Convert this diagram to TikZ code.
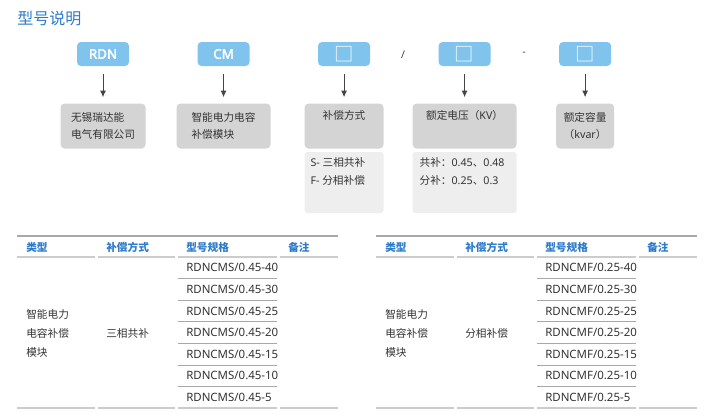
\documentclass[tikz,border=0pt]{standalone}
\usepackage{fontspec}
\setmainfont{Noto Sans CJK SC}
\newfontfamily\latin{Noto Sans}
\newfontfamily\latinbold{Noto Sans}[FakeBold=2.5]
\usepackage{tikz}
\usetikzlibrary{positioning,arrows.meta}
\definecolor{titleblue}{HTML}{2E7BCB}
\definecolor{codeblue}{HTML}{80C3EC}
\definecolor{descgray}{HTML}{D4D4D4}
\definecolor{notegray}{HTML}{EEEEEE}
\definecolor{txtgray}{HTML}{333333}
\definecolor{arrowgray}{HTML}{444444}
\definecolor{ruletop}{HTML}{A8A8A8}
\definecolor{rulelight}{HTML}{CCCCCC}

\begin{document}
\begin{tikzpicture} [x=0.75pt, y=-0.75pt, node distance=51pt, >={Latex[length=5pt,width=4.5pt]},
    every node/.style={inner sep=0pt, text=txtgray, font=\fontsize{8}{12.75}\selectfont},
    code/.style={rectangle, fill=codeblue, rounded corners=3pt, minimum width=39pt,
    minimum height=18pt, text=white, font=\fontsize{10}{10}\selectfont\latinbold},
    blank/.style={code, font=\fontsize{14.5}{14.5}\selectfont},
    desc/.style={rectangle, fill=descgray, rounded corners=3pt, minimum height=33.75pt, align=left},
    note/.style={rectangle, fill=notegray, rounded corners=2pt, minimum height=45.75pt},
    notetext/.style={anchor=north west, align=left, font=\fontsize{8}{13.5}\selectfont},
    con/.style={->, draw=arrowgray, line width=0.75pt, shorten <=6pt, shorten >=4.5pt},
    head/.style={anchor=west, text=titleblue, font=\fontsize{8}{10}\selectfont\bfseries},
    cell/.style={anchor=west, align=left, font=\fontsize{8}{14.25}\selectfont},
    code cell/.style={cell, font=\fontsize{8.6}{10}\selectfont\latin},
    topline/.style={draw=ruletop, line width=0.8pt},
    midline/.style={draw=rulelight, line width=1.1pt},
    rowline/.style={draw=ruletop, line width=0.6pt}
    ]
    \useasboundingbox (0,0) rectangle (704,418);
    \node (title) [anchor=west, text=titleblue, font=\fontsize{12}{14}\selectfont] at (17,18) {型号说明};

    % code boxes
    \node (t1) [code] at (103,54) {RDN};
    \node (t2) [code, right=of t1] {CM};
    \node (t3) [blank, right=of t2] {□};
    \node (t4) [blank, right=of t3] {□};
    \node (t5) [blank, right=of t4] {□};
    \node (slash) [text=arrowgray, font=\fontsize{8}{10}\selectfont\latin] at (403,55) {/};
    \node (dash) [text=arrowgray, font=\fontsize{8}{10}\selectfont\latin] at (524,54) {-};

    % meaning of each part
    \node (d1) [desc, below=27.75pt of t1, minimum width=63.75pt] {无锡瑞达能\\电气有限公司};
    \node (d2) [desc, below=27.75pt of t2, minimum width=70.5pt] {智能电力电容\\补偿模块};
    \node (d3) [desc, below=27.75pt of t3, minimum width=59.25pt, align=center] {补偿方式\\\strut};
    \node (d4) [desc, below=27.75pt of t4, minimum width=78pt, align=center] {额定电压（{\latin KV}）\\\strut};
    \node (d5) [desc, below=27.75pt of t5, minimum width=43.5pt, align=center] {额定容量\\（{\latin kvar}）};
    \node (s3) [note, below=2.25pt of d3, minimum width=59.25pt] {};
    \node (s4) [note, below=2.25pt of d4, minimum width=78pt] {};
    \node (s3t) [notetext] at ([shift={(6,5)}]s3.north west) {{\latin S- }三相共补\\{\latin F- }分相补偿};
    \node (s4t) [notetext] at ([shift={(7,5)}]s4.north west) {共补：{\latin 0.45}、{\latin 0.48}\\分补：{\latin 0.25}、{\latin 0.3}};

    \draw [con] (t1) -- (d1);
    \draw [con] (t2) -- (d2);
    \draw [con] (t3) -- (d3);
    \draw [con] (t4) -- (d4);
    \draw [con] (t5) -- (d5);

    % left table
    \draw [topline] (17,236) -- (338,236);
    \draw [midline] (17,257) -- (95,257) (98,257) -- (175,257) (178,257) -- (277,257) (280,257) -- (338,257);
    \draw [midline] (17,408.2) -- (95,408.2) (98,408.2) -- (175,408.2) (178,408.2) -- (277,408.2) (280,408.2) -- (338,408.2);
    \draw [rowline] (178,278.6) -- (277,278.6) (178,300.2) -- (277,300.2) (178,321.8) -- (277,321.8)
                    (178,343.4) -- (277,343.4) (178,365) -- (277,365) (178,386.6) -- (277,386.6);
    \node (lh1) [head] at (26,247) {类型};
    \node (lh2) [head] at (106,247) {补偿方式};
    \node (lh3) [head] at (186,247) {型号规格};
    \node (lh4) [head] at (288,247) {备注};
    \node (lt) [cell] at (26,333) {智能电力\\电容补偿\\模块};
    \node (lm) [cell] at (106,333) {三相共补};
    \node (l1) [code cell] at (186,267.8) {RDNCMS/0.45-40};
    \node (l2) [code cell] at (186,289.4) {RDNCMS/0.45-30};
    \node (l3) [code cell] at (186,311) {RDNCMS/0.45-25};
    \node (l4) [code cell] at (186,332.6) {RDNCMS/0.45-20};
    \node (l5) [code cell] at (186,354.2) {RDNCMS/0.45-15};
    \node (l6) [code cell] at (186,375.8) {RDNCMS/0.45-10};
    \node (l7) [code cell] at (186,397.4) {RDNCMS/0.45-5};

    % right table
    \draw [topline] (376,236) -- (697,236);
    \draw [midline] (376,257) -- (454,257) (457,257) -- (534,257) (537,257) -- (636,257) (639,257) -- (697,257);
    \draw [midline] (376,408.2) -- (454,408.2) (457,408.2) -- (534,408.2) (537,408.2) -- (636,408.2) (639,408.2) -- (697,408.2);
    \draw [rowline] (537,278.6) -- (636,278.6) (537,300.2) -- (636,300.2) (537,321.8) -- (636,321.8)
                    (537,343.4) -- (636,343.4) (537,365) -- (636,365) (537,386.6) -- (636,386.6);
    \node (rh1) [head] at (385,247) {类型};
    \node (rh2) [head] at (465,247) {补偿方式};
    \node (rh3) [head] at (545,247) {型号规格};
    \node (rh4) [head] at (647,247) {备注};
    \node (rt) [cell] at (385,333) {智能电力\\电容补偿\\模块};
    \node (rm) [cell] at (465,333) {分相补偿};
    \node (r1) [code cell] at (545,267.8) {RDNCMF/0.25-40};
    \node (r2) [code cell] at (545,289.4) {RDNCMF/0.25-30};
    \node (r3) [code cell] at (545,311) {RDNCMF/0.25-25};
    \node (r4) [code cell] at (545,332.6) {RDNCMF/0.25-20};
    \node (r5) [code cell] at (545,354.2) {RDNCMF/0.25-15};
    \node (r6) [code cell] at (545,375.8) {RDNCMF/0.25-10};
    \node (r7) [code cell] at (545,397.4) {RDNCMF/0.25-5};
\end{tikzpicture}
\end{document}
